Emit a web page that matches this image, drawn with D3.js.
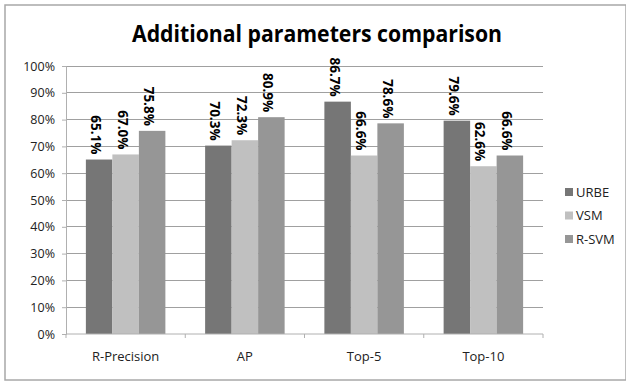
<!DOCTYPE html>
<html><head><meta charset="utf-8">
<script src="https://cdn.jsdelivr.net/npm/d3@7"></script>
<style>html,body{margin:0;padding:0;background:#fff;}svg{display:block;}</style>
</head><body>
<script>
const categories = ["R-Precision", "AP", "Top-5", "Top-10"];
const seriesNames = ["URBE", "VSM", "R-SVM"];
const urbe = [65.1, 70.3, 86.7, 79.6];
const vsm = [67.0, 72.3, 66.6, 62.6];
const rsvm = [75.8, 80.9, 78.6, 66.6];
const yTicks = [0,10,20,30,40,50,60,70,80,90,100];
const colors = ["#767676", "#c0c0c0", "#969696"];
const seriesValues = [urbe, vsm, rsvm];

const W = 626, H = 381;
const svg = d3.select("body").append("svg").attr("width", W).attr("height", H);
const font = "'Open Sans', 'Liberation Sans', sans-serif";

svg.append("rect").attr("x",5).attr("y",5).attr("width",621).attr("height",375)
  .attr("fill","#fff").attr("stroke","#a8a8a8").attr("stroke-width",1.5);

svg.append("text").attr("x",317).attr("y",42).attr("text-anchor","middle")
  .attr("font-family",font).attr("font-weight","bold").attr("font-size",23)
  .attr("textLength",370).attr("lengthAdjust","spacingAndGlyphs")
  .attr("fill","#000").text("Additional parameters comparison");

const x0 = d3.scaleBand().domain(categories).range([66,543]).paddingInner(0).paddingOuter(0);
const bw = x0.bandwidth();
const x1 = d3.scaleBand().domain(seriesNames).range([bw/6, bw*5/6]).padding(0);
const y = d3.scaleLinear().domain([0,100]).range([334,66]);

// gridlines
svg.append("g").selectAll("line").data(yTicks.filter(d=>d>0)).join("line")
  .attr("x1",66).attr("x2",543).attr("y1",d=>y(d)).attr("y2",d=>y(d))
  .attr("stroke","#a0a0a0").attr("stroke-width",1).attr("shape-rendering","crispEdges");

// y axis
const yAxis = d3.axisLeft(y).tickValues(yTicks).tickFormat(d=>d+"%").tickSize(4).tickPadding(7);
const gy = svg.append("g").attr("transform","translate(66,0)").call(yAxis);
gy.select(".domain").attr("stroke","#b0b0b0");
gy.selectAll(".tick line").attr("stroke","#b0b0b0");
gy.selectAll("text").attr("font-family",font).attr("font-size",12.5).attr("fill","#222");

// bars
const groups = svg.append("g").selectAll("g").data(categories).join("g")
  .attr("transform",d=>`translate(${x0(d)},0)`);
groups.selectAll("rect").data((c,i)=>seriesNames.map((s,j)=>({s, j, v: seriesValues[j][i]}))).join("rect")
  .attr("x",d=>x1(d.s)).attr("width",x1.bandwidth())
  .attr("y",d=>y(d.v)).attr("height",d=>y(0)-y(d.v))
  .attr("fill",d=>colors[d.j]);
groups.selectAll("text").data((c,i)=>seriesNames.map((s,j)=>({s, j, v: seriesValues[j][i]}))).join("text")
  .attr("transform",d=>`translate(${x1(d.s)+x1.bandwidth()/2},${y(d.v)-5}) rotate(90)`)
  .attr("text-anchor","end").attr("dy","0.6em")
  .attr("font-family",font).attr("font-weight","bold").attr("font-size",13.5).attr("fill","#000")
  .text(d=>d.v.toFixed(1)+"%");

// x axis
const xAxis = d3.axisBottom(x0).tickSize(0).tickPadding(18);
const gx = svg.append("g").attr("transform","translate(0,334)").call(xAxis);
gx.select(".domain").attr("stroke","#b0b0b0").attr("d","M66,0H543");
gx.selectAll("text").attr("font-family",font).attr("font-size",13).attr("fill","#222");
// category boundary ticks
const bounds = categories.map(c=>x0(c)).concat([x0(categories[categories.length-1])+bw]);
svg.append("g").selectAll("line").data(bounds).join("line")
  .attr("x1",d=>d).attr("x2",d=>d).attr("y1",334).attr("y2",338)
  .attr("stroke","#b0b0b0");

// legend
const lg = svg.append("g").selectAll("g").data(seriesNames).join("g")
  .attr("transform",(d,i)=>`translate(565,${188+i*23.5})`);
lg.append("rect").attr("width",8).attr("height",8).attr("fill",(d,i)=>colors[i]);
lg.append("text").attr("x",11).attr("y",8.5).attr("font-family",font).attr("font-size",13)
  .attr("fill","#222").text(d=>d);
</script>
</body></html>
